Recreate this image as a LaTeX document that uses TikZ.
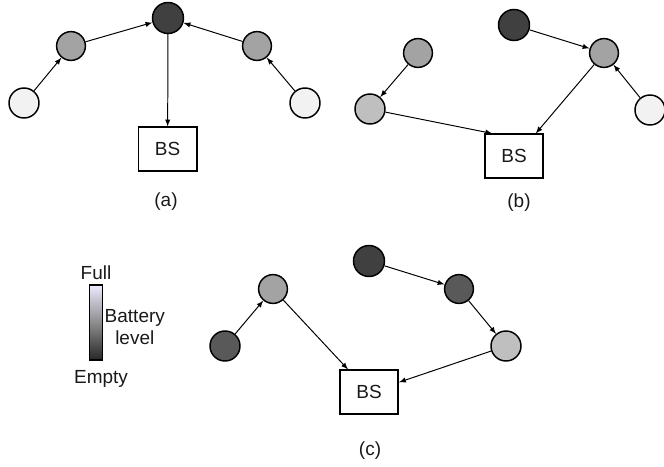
\documentclass[tikz,border=0pt]{standalone}
\usepackage{fontspec}
\setmainfont{Liberation Sans}
\usepackage{tikz}
\tikzset{>=latex}
\definecolor{level1}{HTML}{404040}
\definecolor{level2}{HTML}{595959}
\definecolor{level3}{HTML}{A3A3A3}
\definecolor{level4}{HTML}{BFBFBF}
\definecolor{level5}{HTML}{F2F2F2}
\tikzset{
    sensor/.style={circle, draw=black, line width=1.05pt, inner sep=0pt, minimum size=#1},
    sensor/.default=0.75cm,
    bs/.style={rectangle, draw=black, line width=1.05pt, minimum width=1.46cm, minimum height=1.09cm, inner sep=0pt, text=black!90, font=\fontsize{13.5}{16}\selectfont},
    txt/.style={font=\fontsize{13.5}{16}\selectfont, text=black!90, inner sep=0pt},
    link/.style={->, line width=0.7pt}
}

\begin{document}
\begin{tikzpicture}

    \useasboundingbox (0,0) rectangle (16.6,11.65);

    % (a)
    \node[sensor=0.775cm, fill=level1] (a1) at (4.2,11.2) {};
    \node[sensor=0.72cm, fill=level3] (a2) at (1.775,10.5) {};
    \node[sensor=0.72cm, fill=level3] (a3) at (6.425,10.5) {};
    \node[sensor, fill=level5] (a4) at (0.6,9.075) {};
    \node[sensor, fill=level5] (a5) at (7.625,9.075) {};
    \node[bs] (bsa) at (4.19,7.925) {BS};
    \node[txt] (laba) at (4.15,6.6) {(a)};

    \draw[link] (a4) -- (a2);
    \draw[link] (a2) -- (a1);
    \draw[link] (a5) -- (a3);
    \draw[link] (a3) -- (a1);
    \draw[link] (a1) -- (bsa);

    % (b)
    \node[sensor=0.775cm, fill=level1] (b1) at (12.85,11.025) {};
    \node[sensor=0.72cm, fill=level3] (b2) at (15.1,10.325) {};
    \node[sensor=0.72cm, fill=level3] (b3) at (10.45,10.325) {};
    \node[sensor, fill=level4] (b4) at (9.25,8.925) {};
    \node[sensor, fill=level5] (b5) at (16.25,8.9) {};
    \node[bs] (bsb) at (12.85,7.75) {BS};
    \node[txt] (labb) at (12.975,6.575) {(b)};

    \draw[link] (b1) -- (b2);
    \draw[link] (b5) -- (b2);
    \draw[link] (b2) -- (bsb.46);
    \draw[link] (b3) -- (b4);
    \draw[link] (b4) -- (bsb.134);

    % (c)
    \node[sensor, fill=level2] (c1) at (5.625,3) {};
    \node[sensor=0.72cm, fill=level3] (c2) at (6.825,4.425) {};
    \node[sensor=0.775cm, fill=level1] (c3) at (9.225,5.125) {};
    \node[sensor=0.72cm, fill=level2] (c4) at (11.475,4.425) {};
    \node[sensor, fill=level4] (c5) at (12.65,3) {};
    \node[bs] (bsc) at (9.225,1.85) {BS};
    \node[txt] (labc) at (9.25,0.375) {(c)};

    \draw[link] (c1) -- (c2);
    \draw[link] (c2) -- (bsc);
    \draw[link] (c3) -- (c4);
    \draw[link] (c4) -- (c5);
    \draw[link] (c5) -- (bsc.18);

    % battery scale
    \node[rectangle, draw=black, line width=0.8pt, minimum width=0.325cm, minimum height=1.875cm, inner sep=0pt, top color=blue!8!white, bottom color=black!85, middle color=black!45] (bar) at (2.4,3.5875) {};
    \node[txt] (full) at (2.4,4.825) {Full};
    \node[txt, align=center] (batt) at (3.37,3.475) {Battery\\level};
    \node[txt] (empty) at (2.525,2.175) {Empty};

\end{tikzpicture}
\end{document}
